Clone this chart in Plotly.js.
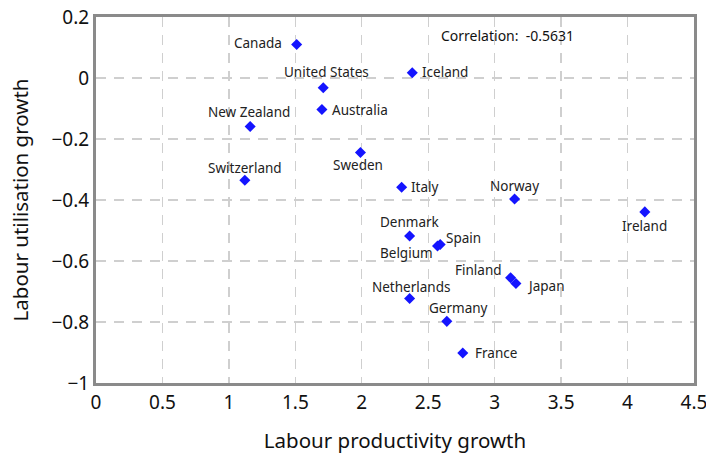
<!DOCTYPE html>
<html><head><meta charset="utf-8">
<script src="https://cdn.plot.ly/plotly-3.0.1.min.js"></script>
<style>body{margin:0;background:#fff}#c{width:706px;height:457px}</style>
</head><body><div id="c"></div>
<script>
const countries = ["Canada","United States","Australia","Iceland","New Zealand","Switzerland","Sweden","Italy","Norway","Ireland","Denmark","Spain","Belgium","Finland","Japan","Netherlands","Germany","France"];
const productivity = [1.51,1.71,1.70,2.38,1.16,1.12,1.99,2.30,3.15,4.13,2.36,2.59,2.57,3.12,3.16,2.36,2.64,2.76];
const utilisation = [0.11,-0.032,-0.103,0.017,-0.159,-0.335,-0.244,-0.358,-0.397,-0.439,-0.518,-0.546,-0.551,-0.655,-0.674,-0.723,-0.798,-0.902];
const correlationText = "Correlation:  -0.5631";

// label styling (anchor side and pixel offsets from each marker)
const labelAnchor = ["right","center","left","left","center","center","center","left","center","center","center","left","right","right","left","center","center","left"];
const labelDx = [-13,3,8,8,-1,0,-2,7,0,0,0,4,-3,-7,9,1,12,10];
const labelDy = [-1,-16,1,-1,-15,-12,13,0,-13,14,-14,-7,7,-8,2,-12,-13,0];

const font = "Noto Sans, sans-serif";
const trace = {
  x: productivity, y: utilisation,
  mode: "markers", type: "scatter",
  marker: {symbol: "diamond", size: 8.5, color: "#1414ff"},
  cliponaxis: false, hoverinfo: "none"
};
const labels = countries.map((c, i) => ({
  x: productivity[i], y: utilisation[i], xref: "x", yref: "y", text: c,
  showarrow: false, xanchor: labelAnchor[i], yanchor: "middle",
  xshift: labelDx[i], yshift: -labelDy[i],
  font: {family: font, size: 13.5, color: "#222"}
}));
labels.push({x: 3.1, y: 0.138, xref: "x", yref: "y", text: correlationText, showarrow: false,
  font: {family: font, size: 14, color: "#111"}});

const axisCommon = {
  showline: true, mirror: true, linecolor: "#8a8a8a", linewidth: 3,
  showgrid: true, gridcolor: "#cfcfcf", gridwidth: 1.3, griddash: "10px,8px",
  zeroline: false, ticks: "", ticklabeloverflow: "allow",
  tickfont: {family: font, size: 19, color: "#111"}
};
const layout = {
  width: 706, height: 457,
  margin: {l: 96, r: 12, t: 17, b: 74},
  paper_bgcolor: "#fff", plot_bgcolor: "#fff",
  showlegend: false,
  xaxis: Object.assign({}, axisCommon, {range: [-0.0001, 4.5001], dtick: 0.5, tick0: 0,
    title: {text: "Labour productivity growth", font: {family: font, size: 20.5, color: "#111"}, standoff: 20}}),
  yaxis: Object.assign({}, axisCommon, {range: [-1.0001, 0.2001], dtick: 0.2, tick0: 0,
    title: {text: "Labour utilisation growth", font: {family: font, size: 20.5, color: "#111"}, standoff: 18}}),
  annotations: labels
};
Plotly.newPlot("c", [trace], layout, {staticPlot: true});
</script></body></html>
